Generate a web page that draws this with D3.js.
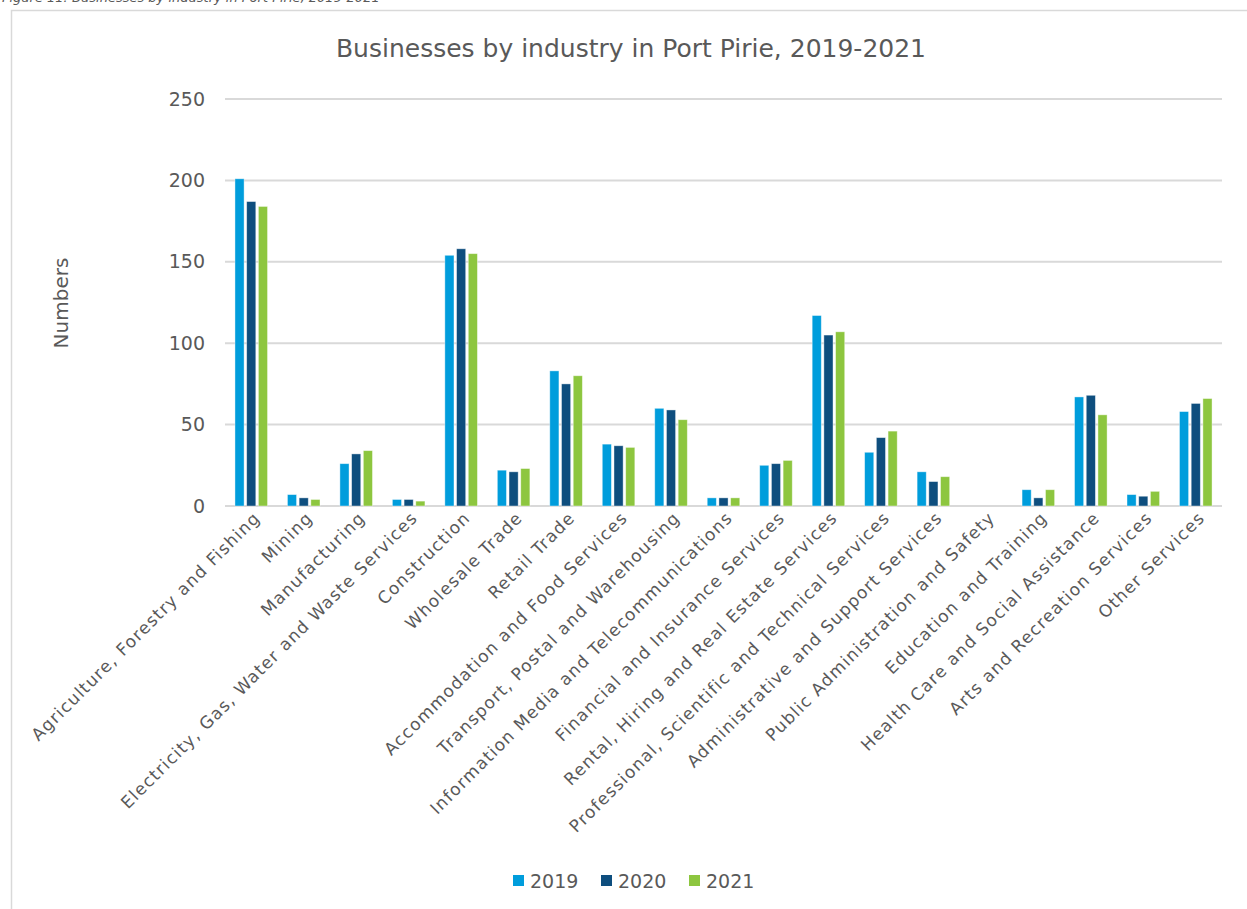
<!DOCTYPE html>
<html>
<head>
<meta charset="utf-8">
<script src="https://cdn.jsdelivr.net/npm/d3@7"></script>
<style>
  html, body { margin: 0; padding: 0; background: #fff; }
  svg { display: block; }
  text { font-family: "DejaVu Sans", "Open Sans", sans-serif; fill: #595959; }
</style>
</head>
<body>
<script>
// Industry categories on the x axis
const categories = [
  "Agriculture, Forestry and Fishing",
  "Mining",
  "Manufacturing",
  "Electricity, Gas, Water and Waste Services",
  "Construction",
  "Wholesale Trade",
  "Retail Trade",
  "Accommodation and Food Services",
  "Transport, Postal and Warehousing",
  "Information Media and Telecommunications",
  "Financial and Insurance Services",
  "Rental, Hiring and Real Estate Services",
  "Professional, Scientific and Technical Services",
  "Administrative and Support Services",
  "Public Administration and Safety",
  "Education and Training",
  "Health Care and Social Assistance",
  "Arts and Recreation Services",
  "Other Services"
];

// Number of businesses per industry, by year
const years = ["2019", "2020", "2021"];
const values2019 = [201, 7, 26, 4, 154, 22, 83, 38, 60, 5, 25, 117, 33, 21, 0, 10, 67, 7, 58];
const values2020 = [187, 5, 32, 4, 158, 21, 75, 37, 59, 5, 26, 105, 42, 15, 0, 5, 68, 6, 63];
const values2021 = [184, 4, 34, 3, 155, 23, 80, 36, 53, 5, 28, 107, 46, 18, 0, 10, 56, 9, 66];
const yTicks = [0, 50, 100, 150, 200, 250];

const seriesValues = [values2019, values2020, values2021];
const colors = ["#009ddc", "#0e4e7e", "#8dc63f"];

const W = 1247, H = 909;
const plot = { left: 225, right: 1222, top: 99, bottom: 506 };

const svg = d3.select("body").append("svg")
  .attr("width", W).attr("height", H);

// Chart frame (top and left edges visible)
svg.append("path")
  .attr("d", `M11.5,${H} V10.5 H${W}`)
  .attr("fill", "none").attr("stroke", "#d9d9d9").attr("stroke-width", 1.5);

// Figure caption above the frame, running off the top of the page
svg.append("text")
  .attr("x", 2).attr("y", 2)
  .style("font-size", "13px").style("font-style", "italic")
  .text("Figure 11: Businesses by industry in Port Pirie, 2019-2021");

// One slot per industry across the plot width
const x0 = d3.scaleBand()
  .domain(categories)
  .range([plot.left, plot.right])
  .paddingInner(0).paddingOuter(0);

const x1 = d3.scaleBand()
  .domain(years)
  .range([0, x0.bandwidth()])
  .paddingInner(0.22)
  .paddingOuter(0.85);

const y = d3.scaleLinear().domain([0, 250]).range([plot.bottom, plot.top]);

// Gridlines
svg.append("g")
  .selectAll("line")
  .data(yTicks)
  .join("line")
  .attr("x1", plot.left).attr("x2", plot.right)
  .attr("y1", d => y(d)).attr("y2", d => y(d))
  .attr("stroke", "#d9d9d9").attr("stroke-width", 2);

// Y axis tick labels
const yAxis = d3.axisLeft(y).tickValues(yTicks).tickSize(0).tickPadding(20);
const yg = svg.append("g").attr("transform", `translate(${plot.left},0)`).call(yAxis);
yg.select(".domain").remove();
yg.selectAll("text")
  .style("font-size", "19px")
  .style("font-family", "'DejaVu Sans', 'Open Sans', sans-serif")
  .attr("fill", "#595959");

// Bars
const groups = svg.append("g")
  .selectAll("g")
  .data(categories)
  .join("g")
  .attr("transform", d => `translate(${x0(d)},0)`);

groups.selectAll("rect")
  .data((d, i) => years.map((yr, k) => ({ yr, k, v: seriesValues[k][i] })))
  .join("rect")
  .filter(d => d.v > 0)
  .attr("x", d => x1(d.yr))
  .attr("width", x1.bandwidth())
  .attr("y", d => y(d.v))
  .attr("height", d => y(0) - y(d.v))
  .attr("fill", d => colors[d.k])
  .attr("stroke", "#ffffff").attr("stroke-opacity", 0.5).attr("stroke-width", 0.8);

// Category labels, rotated
svg.append("g")
  .selectAll("text")
  .data(categories)
  .join("text")
  .attr("transform", d => `translate(${x0(d) + x0.bandwidth() / 2 + 10},${plot.bottom + 13}) rotate(-45)`)
  .attr("text-anchor", "end")
  .style("font-size", "17px")
  .style("letter-spacing", "1.2px")
  .text(d => d);

// Y axis title
svg.append("text")
  .attr("transform", `translate(68,303) rotate(-90)`)
  .attr("text-anchor", "middle")
  .style("font-size", "20px")
  .text("Numbers");

// Chart title
svg.append("text")
  .attr("x", 631).attr("y", 57)
  .attr("text-anchor", "middle")
  .style("font-size", "25px")
  .text("Businesses by industry in Port Pirie, 2019-2021");

// Legend
const legend = svg.append("g").attr("transform", "translate(513,881)");
const item = legend.selectAll("g").data(years).join("g")
  .attr("transform", (d, i) => `translate(${i * 88},0)`);
item.append("rect")
  .attr("x", 0).attr("y", -6).attr("width", 11).attr("height", 11)
  .attr("fill", (d, i) => colors[i]);
item.append("text")
  .attr("x", 17).attr("y", 7)
  .style("font-size", "19px")
  .text(d => d);
</script>
</body>
</html>
